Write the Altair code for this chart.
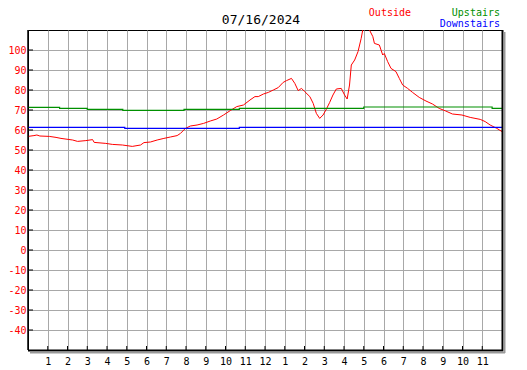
import altair as alt
import pandas as pd

title_text = "07/16/2024"
series_names = ["Outside", "Upstairs", "Downstairs"]
series_colors = ["#ff0000", "#009000", "#0000ff"]

out_hours = [0.0, 0.3, 0.45, 0.6, 1.08, 1.42, 1.67, 2.26, 2.51, 2.93, 3.27, 3.35, 3.94, 4.27,
             4.78, 5.28, 5.70, 5.87, 6.2, 6.54, 6.88, 7.21, 7.55, 7.72, 7.97, 8.22, 8.56, 8.89,
             9.23, 9.56, 9.9, 10.24, 10.57, 10.91, 11.24, 11.49, 11.66, 11.92, 12.17, 12.42,
             12.67, 12.92, 13.09, 13.34, 13.51, 13.68, 13.85, 14.01, 14.27, 14.44, 14.6, 14.77,
             14.94, 15.11, 15.27, 15.44, 15.61, 15.86, 16.03, 16.16, 16.28, 16.37, 16.54, 16.71,
             16.87, 16.95, 17.05, 17.2, 17.29, 17.46, 17.54, 17.79, 17.96, 18.04, 18.21, 18.38,
             18.63, 18.8, 18.97, 19.22, 19.47, 19.81, 20.15, 20.48, 20.82, 21.15, 21.49, 21.97,
             22.39, 22.9, 23.15, 23.4, 23.74, 24.0]
out_temps = [56.8, 57.2, 57.5, 57.0, 56.8, 56.3, 55.8, 55.0, 54.3, 54.7, 55.2, 53.8, 53.3, 52.8,
             52.5, 51.8, 52.5, 53.7, 54.0, 55.0, 55.8, 56.5, 57.2, 58.3, 60.8, 62.0, 62.5, 63.3,
             64.5, 65.5, 67.5, 69.7, 71.7, 72.5, 75.0, 76.7, 76.7, 78.0, 78.8, 80.0,
             81.2, 83.8, 84.7, 85.8, 83.3, 79.7, 80.8, 79.2, 76.7, 73.3, 68.3, 65.8,
             67.5, 70.5, 73.7, 77.5, 80.5, 80.8, 77.5, 75.5, 82.5, 92.5, 95.0, 99.2,
             105.8, 110.0, 112.0, 111.0, 110.0, 106.7, 103.3, 102.5, 97.5, 98.3, 94.2, 90.8,
             89.2, 85.8, 82.5, 80.8, 78.8, 76.3, 74.5, 73.0, 70.8, 69.5, 68.0, 67.5,
             66.3, 65.3, 64.2, 62.5, 60.8, 59.2]

up_hours = [0.0, 1.6, 3.0, 4.8, 7.9, 10.7, 17.0, 23.5, 24.0]
up_temps = [71.3, 70.8, 70.3, 69.8, 70.3, 70.8, 71.5, 70.8, 70.8]

down_hours = [0.0, 4.9, 10.7, 24.0]
down_temps = [61.3, 60.8, 61.3, 61.3]

y_ticks = list(range(-40, 101, 10))
x_ticks = list(range(1, 24))
x_tick_labels = ["1", "2", "3", "4", "5", "6", "7", "8", "9", "10", "11", "12",
                 "1", "2", "3", "4", "5", "6", "7", "8", "9", "10", "11"]

W, H = 474, 320
PAD_L = 20
FONT = "DejaVu Sans Mono"
GRID = "#a8a8a8"

xs = alt.Scale(domain=[0, 24], nice=False, zero=False)
ys = alt.Scale(domain=[-50, 110], nice=False, zero=False)

label_expr = "[" + ",".join("'" + l + "'" for l in [""] + x_tick_labels) + "][datum.value]"
y_label_expr = "replace(format(datum.value, 'd'), '\u2212', '-')"

x_axis = alt.Axis(values=x_ticks, grid=True, gridColor=GRID, gridWidth=1, gridOpacity=1,
                  ticks=False, domain=False, labelExpr=label_expr, labelFont=FONT,
                  labelFontSize=10, labelColor="black", labelPadding=6, title=None,
                  labelAngle=0)
y_axis = alt.Axis(values=y_ticks, grid=True, gridColor=GRID, gridWidth=1, gridOpacity=1,
                  ticks=False, domain=False, labelFont=FONT, labelFontSize=10,
                  labelExpr=y_label_expr,
                  labelColor="#ff0000", labelPadding=2, title=None)

X = alt.X("h:Q", scale=xs, axis=x_axis)
Y = alt.Y("t:Q", scale=ys, axis=y_axis)

out_df = pd.DataFrame({"h": out_hours, "t": out_temps})
up_df = pd.DataFrame({"h": up_hours, "t": up_temps})
down_df = pd.DataFrame({"h": down_hours, "t": down_temps})

out_line = alt.Chart(out_df).mark_line(color=series_colors[0], strokeWidth=1, clip=True).encode(
    x=X, y=Y)
up_line = alt.Chart(up_df).mark_line(color=series_colors[1], strokeWidth=1.2,
                                     interpolate="step-after", clip=True).encode(x=X, y=Y)
down_line = alt.Chart(down_df).mark_line(color=series_colors[2], strokeWidth=1.2,
                                         interpolate="step-after", clip=True).encode(x=X, y=Y)

ytick_df = pd.DataFrame({"t": y_ticks})
xtick_df = pd.DataFrame({"h": x_ticks})
y_tick_marks = alt.Chart(ytick_df).mark_rule(color="black", strokeWidth=1).encode(
    x=alt.value(0), x2=alt.value(5), y=Y)
x_tick_marks = alt.Chart(xtick_df).mark_rule(color="black", strokeWidth=1).encode(
    x=X, y=alt.value(H), y2=alt.value(H - 4))

one = pd.DataFrame({"a": [0]})
frame_left = alt.Chart(one).mark_rule(color="black", strokeWidth=1.5).encode(
    x=alt.value(0), y=alt.value(0), y2=alt.value(H))
frame_bottom = alt.Chart(one).mark_rule(color="black", strokeWidth=2).encode(
    x=alt.value(0), x2=alt.value(W + 1), y=alt.value(H + 0.5))
frame_right = alt.Chart(one).mark_rule(color="black", strokeWidth=2).encode(
    x=alt.value(W + 0.5), y=alt.value(0), y2=alt.value(H + 1))
shadow_bottom = alt.Chart(one).mark_rule(color="#999999", strokeWidth=2).encode(
    x=alt.value(2), x2=alt.value(W + 3), y=alt.value(H + 2.5))
shadow_right = alt.Chart(one).mark_rule(color="#999999", strokeWidth=2).encode(
    x=alt.value(W + 2.5), y=alt.value(2), y2=alt.value(H + 3))

title_mark = alt.Chart(pd.DataFrame({"s": [title_text]})).mark_text(
    font=FONT, fontSize=13, color="black", align="center", baseline="middle").encode(
    x=alt.value(261 - 8 - PAD_L), y=alt.value(-10), text="s:N")

leg_out = alt.Chart(pd.DataFrame({"s": [series_names[0]]})).mark_text(
    font=FONT, fontSize=10, color=series_colors[0], align="right", baseline="middle").encode(
    x=alt.value(411 - 8 - PAD_L), y=alt.value(-17), text="s:N")
leg_up = alt.Chart(pd.DataFrame({"s": [series_names[1]]})).mark_text(
    font=FONT, fontSize=10, color=series_colors[1], align="right", baseline="middle").encode(
    x=alt.value(500 - 8 - PAD_L), y=alt.value(-17), text="s:N")
leg_down = alt.Chart(pd.DataFrame({"s": [series_names[2]]})).mark_text(
    font=FONT, fontSize=10, color=series_colors[2], align="right", baseline="middle").encode(
    x=alt.value(500 - 8 - PAD_L), y=alt.value(-6), text="s:N")

chart = alt.layer(
    out_line, up_line, down_line, y_tick_marks, x_tick_marks,
    frame_left, frame_bottom, frame_right, shadow_bottom, shadow_right,
    title_mark, leg_out, leg_up, leg_down,
).properties(
    width=W, height=H,
    autosize=alt.AutoSizeParams(type="none"),
    padding={"left": PAD_L, "top": 22, "right": 10, "bottom": 22},
    background="white",
).configure_view(stroke="black", strokeWidth=1)

chart.save("out.html", embed_options={"renderer": "svg", "actions": False})
